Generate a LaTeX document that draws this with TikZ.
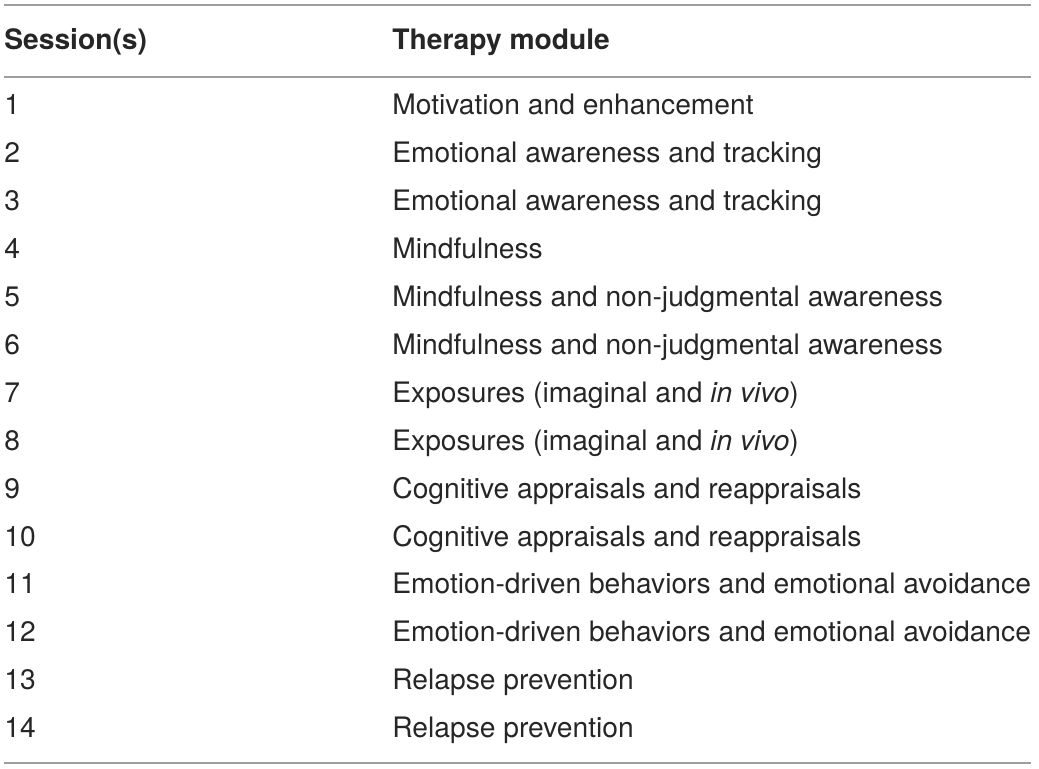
\documentclass[tikz,border=0pt]{standalone}
\usepackage{fontspec}
\setmainfont{TeX Gyre Heros}
\usepackage{tikz}
\usetikzlibrary{matrix}

\begin{document}
\begin{tikzpicture}[x=0.5pt, y=-0.5pt,
    rule/.style={draw=black!38, line width=0.75pt}]
    \useasboundingbox (0,0) rectangle (1039,769);

    % sessions and modules
    \matrix (m) at (4,115) [matrix of nodes, inner sep=0pt, matrix anchor=m-2-1.base west,
        nodes={inner sep=0pt, anchor=base west, text=black!85, font=\fontsize{14.1}{16}\selectfont, text height=16pt, text depth=7.95pt},
        column 1/.style={nodes={text width=194pt, align=left}}] {
        \textbf{Session(s)} & \textbf{Therapy module} \\[9.05pt]
        1 & Motivation and enhancement \\
        2 & Emotional awareness and tracking \\
        3 & Emotional awareness and tracking \\
        4 & Mindfulness \\
        5 & Mindfulness and non-judgmental awareness \\
        6 & Mindfulness and non-judgmental awareness \\
        7 & Exposures (imaginal and \textit{in vivo}) \\
        8 & Exposures (imaginal and \textit{in vivo}) \\
        9 & Cognitive appraisals and reappraisals \\
        10 & Cognitive appraisals and reappraisals \\
        11 & Emotion-driven behaviors and emotional avoidance \\
        12 & Emotion-driven behaviors and emotional avoidance \\
        13 & Relapse prevention \\
        14 & Relapse prevention \\
    };

    % top, header and bottom rules
    \draw[rule] (m.west |- 0,5) -- (m.east |- 0,5);
    \draw[rule] (m.west |- 0,77) -- (m.east |- 0,77);
    \draw[rule] (m.west |- 0,763) -- (m.east |- 0,763);
\end{tikzpicture}
\end{document}
